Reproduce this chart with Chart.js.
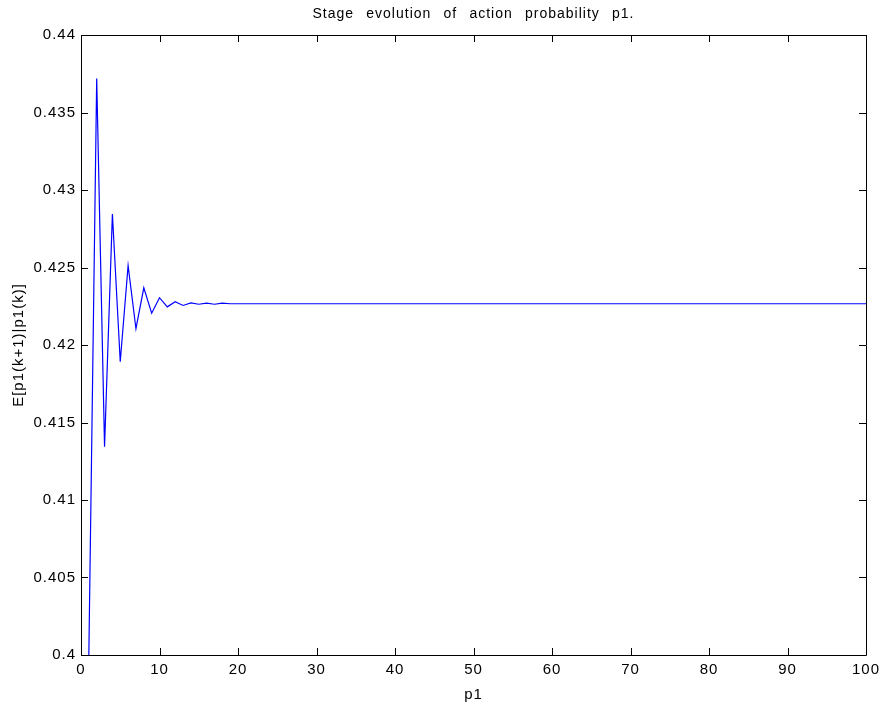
<!DOCTYPE html>
<html>
<head>
<meta charset="utf-8">
<script src="https://cdn.jsdelivr.net/npm/chart.js@4/dist/chart.umd.min.js"></script>
<style>
  html, body { margin: 0; padding: 0; background: #fff; }
  #wrap { width: 881px; height: 704px; }
</style>
</head>
<body>
<div id="wrap"><canvas id="stageChart" width="881" height="704"></canvas></div>
<script>
// Stage evolution of E[p1(k+1)|p1(k)]
const chartTitle = 'Stage evolution of action probability p1.';
const xLabel = 'p1';
const yLabel = 'E[p1(k+1)|p1(k)]';

const xTicks = [0, 10, 20, 30, 40, 50, 60, 70, 80, 90, 100];
const yTicks = [0.4, 0.405, 0.41, 0.415, 0.42, 0.425, 0.43, 0.435, 0.44];

// first 18 stages oscillate, then it settles
const expectedP1 = [
  0.4, 0.4372, 0.41343, 0.42845, 0.41892, 0.42512, 0.42105, 0.42369, 0.42205, 0.42305,
  0.42246, 0.42279, 0.42255, 0.42272, 0.42263, 0.42270, 0.42263, 0.42270, 0.42266, 0.42266,
  0.42266, 0.42266, 0.42266, 0.42266, 0.42266, 0.42266, 0.42266, 0.42266, 0.42266, 0.42266,
  0.42266, 0.42266, 0.42266, 0.42266, 0.42266, 0.42266, 0.42266, 0.42266, 0.42266, 0.42266,
  0.42266, 0.42266, 0.42266, 0.42266, 0.42266, 0.42266, 0.42266, 0.42266, 0.42266, 0.42266,
  0.42266, 0.42266, 0.42266, 0.42266, 0.42266, 0.42266, 0.42266, 0.42266, 0.42266, 0.42266,
  0.42266, 0.42266, 0.42266, 0.42266, 0.42266, 0.42266, 0.42266, 0.42266, 0.42266, 0.42266,
  0.42266, 0.42266, 0.42266, 0.42266, 0.42266, 0.42266, 0.42266, 0.42266, 0.42266, 0.42266,
  0.42266, 0.42266, 0.42266, 0.42266, 0.42266, 0.42266, 0.42266, 0.42266, 0.42266, 0.42266,
  0.42266, 0.42266, 0.42266, 0.42266, 0.42266, 0.42266, 0.42266, 0.42266, 0.42266, 0.42266
];
const stages = expectedP1.map((_, i) => i + 1);

const FONT = "'Liberation Sans', Arial, Helvetica, sans-serif";

// matlab-ish text is a bit wider than canvas arial
function widenText(ctx) {
  if ('letterSpacing' in ctx) ctx.letterSpacing = '1px';
}

// box + inward ticks on all four sides, title centred over the axes
const matlabAxes = {
  id: 'matlabAxes',
  beforeUpdate(chart) { widenText(chart.ctx); },
  beforeDraw(chart) { widenText(chart.ctx); },
  afterDraw(chart) {
    const ctx = chart.ctx;
    const { left, right, top, bottom } = chart.chartArea;
    const xs = chart.scales.x, ys = chart.scales.y;
    const tl = 7;
    ctx.save();
    ctx.strokeStyle = '#000';
    ctx.lineWidth = 1;
    ctx.beginPath();
    ctx.rect(Math.round(left) + 0.5, Math.round(top) + 0.5,
             Math.round(right - left), Math.round(bottom - top));
    xTicks.forEach(v => {
      const px = Math.round(xs.getPixelForValue(v)) + 0.5;
      ctx.moveTo(px, bottom); ctx.lineTo(px, bottom - tl);
      ctx.moveTo(px, top); ctx.lineTo(px, top + tl);
    });
    yTicks.forEach(v => {
      const py = Math.round(ys.getPixelForValue(v)) + 0.5;
      ctx.moveTo(left, py); ctx.lineTo(left + tl, py);
      ctx.moveTo(right, py); ctx.lineTo(right - tl, py);
    });
    ctx.stroke();

    ctx.fillStyle = '#000';
    ctx.font = '14px ' + FONT;
    ctx.textAlign = 'center';
    ctx.textBaseline = 'middle';
    if ('letterSpacing' in ctx) ctx.letterSpacing = '1px';
    if ('wordSpacing' in ctx) {
      ctx.wordSpacing = '0px';
      const w = ctx.measureText(chartTitle).width;
      ctx.wordSpacing = Math.max(0, (322 - w) / 5) + 'px';
    }
    ctx.fillText(chartTitle, (left + right) / 2, 14);
    ctx.restore();
  }
};

const fmtTick = v => String(Number(v.toFixed(3)));

new Chart(document.getElementById('stageChart'), {
  type: 'line',
  data: {
    datasets: [{
      data: stages.map((s, i) => ({ x: s, y: expectedP1[i] })),
      borderColor: '#0000ff',
      borderWidth: 1.2,
      pointRadius: 0,
      tension: 0,
      fill: false
    }]
  },
  options: {
    responsive: false,
    devicePixelRatio: 1,
    animation: false,
    layout: { padding: { top: 35, right: 15, left: 0, bottom: 0 } },
    plugins: {
      legend: { display: false },
      title: { display: false },
      tooltip: { enabled: false }
    },
    scales: {
      x: {
        type: 'linear',
        min: 0,
        max: 100,
        afterBuildTicks: s => { s.ticks = xTicks.map(v => ({ value: v })); },
        afterFit: s => { s.height = 49; s.paddingLeft = 0; s.paddingRight = 0; },
        grid: { display: false, drawTicks: false },
        border: { display: false },
        ticks: {
          color: '#000',
          font: { family: FONT, size: 15 },
          padding: 6,
          maxRotation: 0,
          callback: v => String(v)
        },
        title: {
          display: true,
          text: xLabel,
          color: '#000',
          font: { family: FONT, size: 15 },
          padding: { top: 3, bottom: 0 }
        }
      },
      y: {
        type: 'linear',
        min: 0.4,
        max: 0.44,
        afterBuildTicks: s => { s.ticks = yTicks.map(v => ({ value: v })); },
        afterFit: s => { s.width = 81; s.paddingTop = 0; s.paddingBottom = 0; },
        grid: { display: false, drawTicks: false },
        border: { display: false },
        ticks: {
          color: '#000',
          font: { family: FONT, size: 15 },
          padding: 5,
          callback: v => fmtTick(v)
        },
        title: {
          display: true,
          text: yLabel,
          color: '#000',
          font: { family: FONT, size: 15 },
          padding: { top: 10, bottom: 0 }
        }
      }
    }
  },
  plugins: [matlabAxes]
});
</script>
</body>
</html>
